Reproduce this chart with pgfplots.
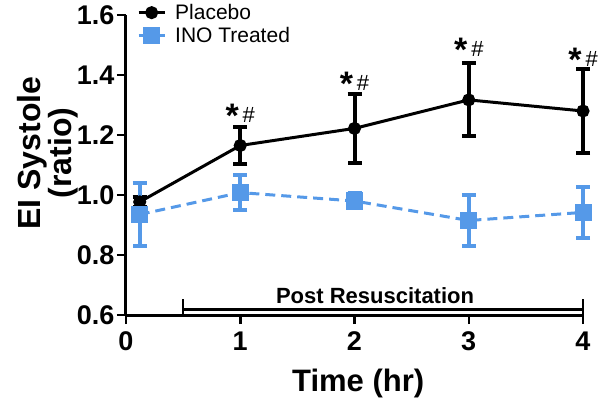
\documentclass[border=0pt]{standalone}
\usepackage{fontspec}
\setmainfont{Liberation Sans}
\usepackage{pgfplots}
\pgfplotsset{compat=1.18}
\definecolor{inoblue}{RGB}{85,153,232}

\newcommand{\sig}{{\fontsize{34}{34}\selectfont\bfseries *}\hspace{4pt}\raisebox{5pt}{\fontsize{22}{22}\selectfont\#}}

\begin{document}
\begin{tikzpicture}
\useasboundingbox (-126pt,-86pt) rectangle (475pt,315pt);
\begin{axis}[
    at={(0pt,0pt)}, anchor=south west,
    scale only axis, width=457pt, height=300pt,
    xmin=0, xmax=4, ymin=0.6, ymax=1.6,
    clip=false,
    axis x line=bottom, axis y line=left,
    axis line style={-, line width=3pt},
    tick align=outside,
    major tick length=9pt,
    tick style={black, line width=2.5pt},
    xtick={0,1,2,3,4},
    ytick={0.6,0.8,1.0,1.2,1.4,1.6},
    /pgf/number format/assume math mode=true,
    tick label style={font=\bfseries\fontsize{27}{27}\selectfont},
    xticklabel style={yshift=-4pt},
    yticklabel style={xshift=1pt, /pgf/number format/.cd, fixed, fixed zerofill, precision=1},
    xlabel={Time (hr)},
    xlabel style={font=\bfseries\fontsize{31}{31}\selectfont, at={(axis description cs:0.508,-0.227)}, anchor=center},
    ylabel={EI Systole\\(ratio)},
    ylabel style={font=\bfseries\fontsize{32}{26}\selectfont, align=center, at={(axis description cs:-0.172,0.54)}, anchor=center},
    legend style={draw=none, fill=none, at={(axis description cs:0.024,1.043)}, anchor=north west,
        font=\fontsize{21}{21}\selectfont, row sep=2pt, column sep=7pt, inner sep=0pt, cells={anchor=west}},
    legend image code/.code={\draw[#1, solid, mark repeat=2, mark phase=2] plot coordinates {(0pt,0pt) (13pt,0pt) (26pt,0pt)};},
]

% Placebo
\addplot[black, line width=3pt, mark=*, mark size=5pt,
    error bars/.cd, y dir=both, y explicit,
    error bar style={line width=4pt},
    error mark options={rotate=90, mark size=7pt, line width=4pt}]
coordinates {
    (0.12,0.977) +- (0,0.017)
    (1,1.165) +- (0,0.062)
    (2,1.222) +- (0,0.116)
    (3,1.317) +- (0,0.122)
    (4,1.280) +- (0,0.141)
};
\addlegendentry{Placebo}

% INO Treated
\addplot[inoblue, line width=3pt, dash pattern=on 10pt off 6pt, mark=square*, mark size=7pt, mark options={solid},
    error bars/.cd, y dir=both, y explicit,
    error bar style={solid, line width=4pt},
    error mark options={solid, rotate=90, mark size=7pt, line width=4pt}]
coordinates {
    (0.12,0.935) +- (0,0.105)
    (1,1.008) +- (0,0.058)
    (2,0.980) +- (0,0.025)
    (3,0.915) +- (0,0.086)
    (4,0.942) +- (0,0.085)
};
\addlegendentry{INO Treated}

% significance marks
\node at (axis cs:1,1.265) {\sig};
\node at (axis cs:2,1.372) {\sig};
\node at (axis cs:3,1.485) {\sig};
\node at (axis cs:4,1.449) {\sig};

% post resuscitation bracket
\draw[line width=2.5pt] (axis cs:0.5,0.6) -- (axis cs:0.5,0.652);
\draw[line width=2.5pt] (axis cs:4,0.6) -- (axis cs:4,0.652);
\draw[line width=2.5pt] (axis cs:0.5,0.618) -- (axis cs:4,0.618);
\node[font=\bfseries\fontsize{22}{22}\selectfont, anchor=base] at (axis cs:2.18,0.637) {Post Resuscitation};

\end{axis}
\end{tikzpicture}
\end{document}
